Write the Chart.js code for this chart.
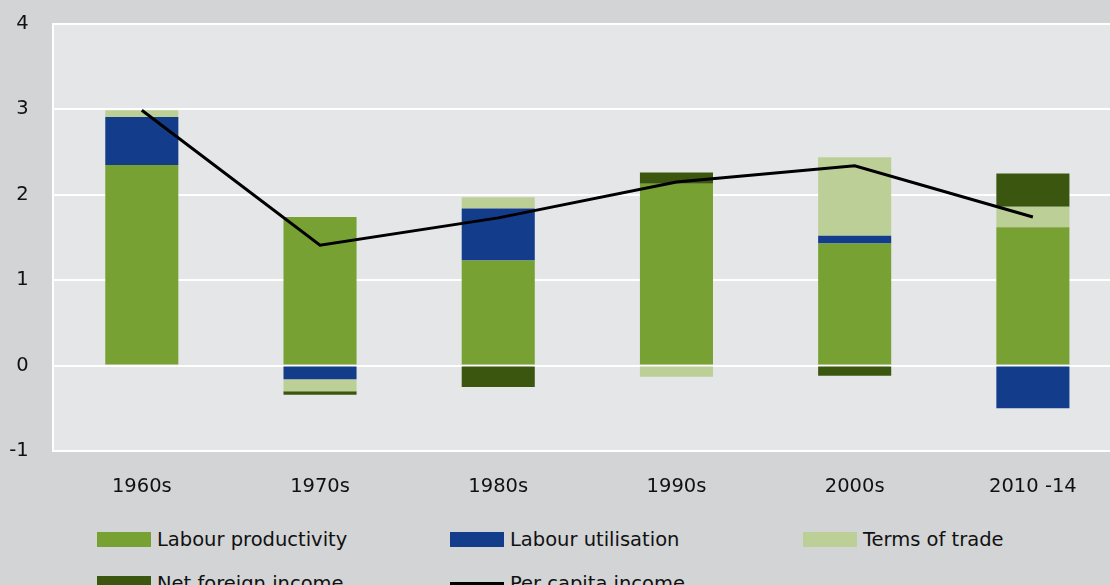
<!DOCTYPE html>
<html>
<head>
<meta charset="utf-8">
<script src="https://cdn.jsdelivr.net/npm/chart.js@4.4.1/dist/chart.umd.min.js"></script>
<style>
  html, body { margin: 0; padding: 0; background: #d3d4d6; overflow: hidden; }
  #wrap { position: relative; width: 1110px; height: 585px; overflow: hidden; }
  #chart { position: absolute; left: 0; top: 0; }
  .item { position: absolute; display: flex; align-items: center; height: 15px;
          font-family: "DejaVu Sans", Verdana, sans-serif; font-size: 19.5px; color: #111; white-space: nowrap; }
  .swatch { width: 54px; height: 15px; margin-right: 6px; flex: none; }
  .stroke { width: 54px; height: 3px; margin-right: 6px; flex: none; }
</style>
</head>
<body>
<div id="wrap">
  <canvas id="chart" width="1122" height="500"></canvas>
  <div id="legend"></div>
</div>
<script>
'use strict';
// values (percentage points)
const decades = ['1960s', '1970s', '1980s', '1990s', '2000s', '2010 -14'];
const labourProductivity = [2.35, 1.74, 1.23, 2.13, 1.43, 1.62];
const labourUtilisation = [0.56, -0.16, 0.61, 0, 0.09, -0.50];
const termsOfTrade = [0.08, -0.14, 0.13, -0.13, 0.92, 0.24];
const netForeignIncome = [0, -0.04, -0.25, 0.13, -0.12, 0.39];
const perCapitaIncome = [2.99, 1.41, 1.73, 2.15, 2.34, 1.74];
const yMin = -1;
const yMax = 4;

let canvasElem = document.getElementById('chart');
const tickFont = { family: '"DejaVu Sans", Verdana, sans-serif', size: 19.5 };

// light grey plot area behind the bars
const plotBg = {
  id: 'plotBg',
  beforeDraw(chart) {
    const { ctx, chartArea: a } = chart;
    ctx.save();
    ctx.fillStyle = '#e5e6e8';
    ctx.fillRect(a.left, a.top, a.right - a.left, a.bottom - a.top);
    ctx.restore();
  }
};

function barSet(label, values, color) {
  return {
    type: 'bar',
    label: label,
    data: values,
    backgroundColor: color,
    stack: 'parts',
    order: 1,
    barPercentage: 0.41,
    categoryPercentage: 1
  };
}

const data = {
  labels: decades,
  datasets: [
    barSet('Labour productivity', labourProductivity, '#78a133'),
    barSet('Labour utilisation', labourUtilisation, '#133d8b'),
    barSet('Terms of trade', termsOfTrade, '#bccf97'),
    barSet('Net foreign income', netForeignIncome, '#3a560f'),
    {
      type: 'line',
      label: 'Per capita income',
      data: perCapitaIncome,
      borderColor: '#000',
      backgroundColor: '#000',
      borderWidth: 3,
      pointRadius: 0,
      tension: 0,
      stack: 'total',
      order: 0
    }
  ]
};

const chartConfig = {
  type: 'bar',
  data: data,
  plugins: [plotBg],
  options: {
    responsive: false,
    animation: false,
    layout: { padding: { top: 24, left: 0, right: 0, bottom: 0 } },
    plugins: { legend: { display: false }, tooltip: { enabled: false } },
    scales: {
      x: {
        stacked: true,
        grid: { display: false },
        border: { display: false },
        ticks: { font: tickFont, color: '#111', padding: 16, maxRotation: 0 },
        afterFit: (axis) => { axis.height = 49; }
      },
      y: {
        stacked: true,
        min: yMin,
        max: yMax,
        grid: { color: '#ffffff', lineWidth: 2, drawTicks: false },
        border: { color: '#ffffff', width: 2 },
        ticks: { stepSize: 1, font: tickFont, color: '#111', padding: 24 },
        afterFit: (axis) => {
          axis.width = 52.7;
          axis.paddingTop = 0;
          axis.paddingBottom = 0;
        }
      }
    }
  }
};

const myChart = new Chart(canvasElem, chartConfig);

// legend laid out as a grid, like the original
const legendSlots = [[97, 532], [450, 532], [803, 532], [97, 576], [450, 576]];
const legendElem = document.getElementById('legend');
myChart.data.datasets.forEach((ds, i) => {
  const item = document.createElement('div');
  item.className = 'item';
  item.style.left = legendSlots[i][0] + 'px';
  item.style.top = legendSlots[i][1] + 'px';
  const mark = document.createElement('span');
  mark.className = ds.type === 'line' ? 'stroke' : 'swatch';
  mark.style.background = ds.type === 'line' ? ds.borderColor : ds.backgroundColor;
  const text = document.createElement('span');
  text.textContent = ds.label;
  item.appendChild(mark);
  item.appendChild(text);
  legendElem.appendChild(item);
});
</script>
</body>
</html>
